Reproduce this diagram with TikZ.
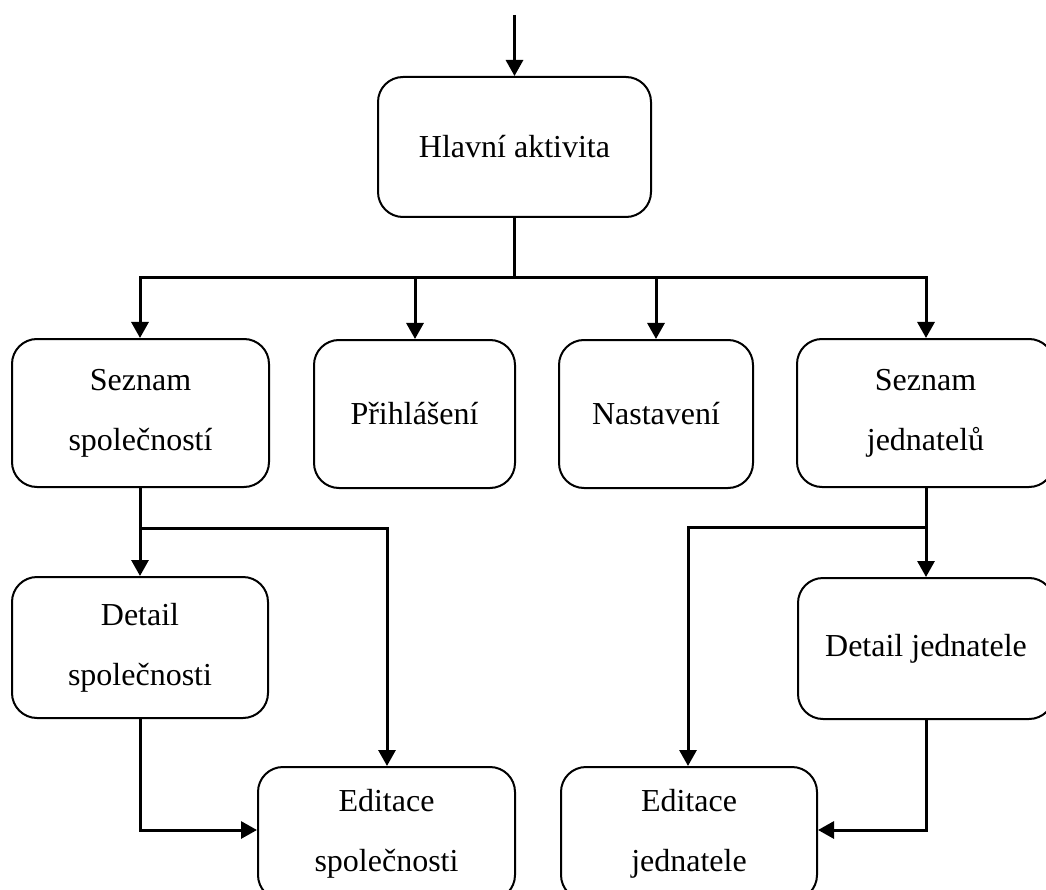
\documentclass[tikz,border=0pt]{standalone}
\usepackage{fontspec}
\setmainfont{Liberation Serif}
\usetikzlibrary{arrows.meta}
\begin{document}
\begin{tikzpicture}[x=1pt,y=-1pt,
  box/.style={draw, line width=2pt, rounded corners=25pt, align=center, inner sep=0pt,
    font=\fontsize{32}{60}\selectfont},
  conn/.style={line width=3pt},
  arr/.style={conn, -{Triangle[width=17pt,length=16pt]}}]
\useasboundingbox (0,0) rectangle (1046,890);
\clip (0,0) rectangle (1046,890);
% boxes
\node[box, minimum width=273pt, minimum height=140pt] (ha) at (514.5,147) {Hlavní aktivita};
\node[box, minimum width=257pt, minimum height=148pt] (ss) at (140.5,413) {Seznam\\společností};
\node[box, minimum width=201pt, minimum height=148pt] (pr) at (414.5,414) {Přihlášení};
\node[box, minimum width=194pt, minimum height=148pt] (na) at (656,414) {Nastavení};
\node[box, minimum width=257pt, minimum height=148pt] (sj) at (925.5,413) {Seznam\\jednatelů};
\node[box, minimum width=256pt, minimum height=141pt] (ds) at (140,647.5) {Detail\\společnosti};
\node[box, minimum width=256pt, minimum height=141pt] (dj) at (926,648.5) {Detail jednatele};
\node[box, minimum width=257pt, minimum height=133pt] (es) at (386.5,833.5) {Editace\\společnosti};
\node[box, minimum width=256pt, minimum height=133pt] (ej) at (689,833.5) {Editace\\jednatele};
% coordinates
\coordinate (start) at (514.5,15);
\coordinate (b1) at (140,278);
\coordinate (b2) at (415,278);
\coordinate (b3) at (656,278);
\coordinate (b4) at (926,278);
\coordinate (l1) at (140,528);
\coordinate (l2) at (387,528);
\coordinate (r1) at (926,527);
\coordinate (r2) at (688,527);
% connectors
\draw[arr] (start) -- (ha.north);
\draw[arr] (ha.south) |- (b1) -- (b1 |- ss.north);
\draw[arr] (ha.south) |- (b4) -- (b4 |- sj.north);
\draw[arr] (b2) -- (b2 |- pr.north);
\draw[arr] (b3) -- (b3 |- na.north);
\draw[arr] (l1 |- ss.south) -- (l1 |- ds.north);
\draw[arr] (l1 |- ss.south) |- (l2) -- (l2 |- es.north);
\draw[arr] (l1 |- ds.south) |- ([yshift=3.5pt]es.west);
\draw[arr] (r1 |- sj.south) -- (r1 |- dj.north);
\draw[arr] (r1) -- (r2) -- (r2 |- ej.north);
\draw[arr] (r1 |- dj.south) |- ([yshift=3.5pt]ej.east);
\end{tikzpicture}
\end{document}
